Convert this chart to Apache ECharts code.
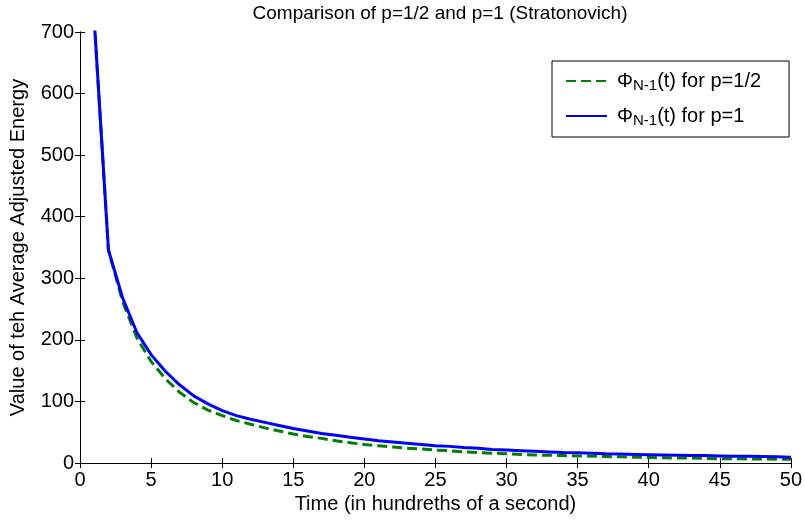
<!DOCTYPE html>
<html>
<head>
<meta charset="utf-8">
<script src="https://cdn.jsdelivr.net/npm/echarts@6/dist/echarts.min.js"></script>
<style>
  html, body { margin: 0; padding: 0; background: #fff; }
  #chart { width: 805px; height: 521px; }
</style>
</head>
<body>
<div id="chart"></div>
<script>
// Comparación p=1/2 y p=1 (Stratonovich)
const tiempos = [1, 2, 3, 4, 5, 6, 7, 8, 9, 10,
  11, 12, 13, 14, 15, 16, 17, 18, 19, 20,
  21, 22, 23, 24, 25, 26, 27, 28, 29, 30,
  31, 32, 33, 34, 35, 36, 37, 38, 39, 40,
  41, 42, 43, 44, 45, 46, 47, 48, 49, 50];

const energiaMedio = [720, 346, 262, 203, 165, 137, 115, 98, 86, 77,
  69, 63, 57, 52, 47, 43, 40, 36, 33, 30,
  28, 26, 24, 23, 21, 20, 18, 17, 16, 15,
  14, 13, 12.5, 12, 11.5, 11, 10.5, 10, 9.5, 9,
  8.5, 8, 8, 7.5, 7, 7, 6.5, 6.5, 6, 6];

const energiaUno = [720, 346, 268, 212, 176, 149, 127, 109, 96, 85,
  77, 71, 66, 61, 56, 52, 48, 45, 42, 39,
  36, 34, 32, 30, 28, 27, 25, 24, 22, 21,
  20, 19, 18, 17, 16.5, 16, 15, 14.5, 14, 13.5,
  13, 12.5, 12, 12, 11.5, 11, 11, 10.5, 10, 9.5];

const fuente = 'Liberation Sans';

function initChart() {
    const chart = echarts.init(document.getElementById('chart'));

    const ejeX = {
        type: 'value',
        min: 0,
        max: 50,
        interval: 5,
        axisLine: { lineStyle: { color: '#000', width: 1 } },
        axisTick: { inside: true, length: 5, lineStyle: { color: '#000' } },
        splitLine: { show: false }
    };
    const ejeY = {
        type: 'value',
        min: 0,
        max: 700,
        interval: 100,
        axisLine: { show: true, lineStyle: { color: '#000', width: 1 } },
        axisTick: { show: true, inside: true, length: 5, lineStyle: { color: '#000' } },
        splitLine: { show: false }
    };

    // Texto de la leyenda con subíndice
    const rich = {
        a: { fontFamily: fuente, fontSize: 20, color: '#000', lineHeight: 24 },
        phi: { fontFamily: fuente, fontSize: 20, color: '#000', lineHeight: 24, padding: [0, 0, 0, 5] },
        sub: { fontFamily: fuente, fontSize: 15, color: '#000', lineHeight: 24, verticalAlign: 'bottom', padding: [14, 0, 0, 0] }
    };

    const option = {
        animation: false,
        backgroundColor: '#fff',
        title: {
            text: 'Comparison of p=1/2 and p=1 (Stratonovich)',
            left: 435,
            textAlign: 'center',
            top: -1,
            textStyle: { fontFamily: fuente, fontSize: 19, fontWeight: 'normal', color: '#000' }
        },
        grid: { left: 78, right: 13, top: 32, bottom: 58, containLabel: false },
        legend: {
            orient: 'vertical',
            left: 552,
            top: 61,
            padding: [3, 28, 9, 13],
            itemGap: 6,
            itemWidth: 41,
            itemHeight: 3,
            borderColor: '#000',
            borderWidth: 1,
            backgroundColor: '#fff',
            itemStyle: { opacity: 0 },
            textStyle: { rich: rich },
            formatter: function (name) {
                return name === 'half'
                    ? '{phi|Φ}{sub|N-1}{a|(t) for p=1/2}'
                    : '{phi|Φ}{sub|N-1}{a|(t) for p=1}';
            },
            data: ['half', 'one']
        },
        xAxis: [
            Object.assign({}, ejeX, {
                position: 'bottom',
                name: 'Time (in hundreths of a second)',
                nameLocation: 'middle',
                nameGap: 27,
                nameTextStyle: { fontFamily: fuente, fontSize: 20, color: '#000' },
                axisLabel: { fontFamily: fuente, fontSize: 20, color: '#000', margin: 7 }
            }),
            Object.assign({}, ejeX, { position: 'top', axisLabel: { show: false } })
        ],
        yAxis: [
            Object.assign({}, ejeY, {
                position: 'left',
                name: 'Value of teh Average Adjusted Energy',
                nameLocation: 'middle',
                nameGap: 52,
                nameTextStyle: { fontFamily: fuente, fontSize: 20, color: '#000' },
                axisLabel: { fontFamily: fuente, fontSize: 20, color: '#000', margin: 6 }
            }),
            Object.assign({}, ejeY, { position: 'right', axisLabel: { show: false } })
        ],
        series: [
            {
                name: 'half',
                type: 'line',
                showSymbol: false,
                symbol: 'none',
                clip: true,
                data: tiempos.map((t, i) => [t, energiaMedio[i]]),
                lineStyle: { color: '#007F00', width: 3, type: [10, 5] },
                itemStyle: { color: '#007F00' }
            },
            {
                name: 'one',
                type: 'line',
                showSymbol: false,
                symbol: 'none',
                clip: true,
                data: tiempos.map((t, i) => [t, energiaUno[i]]),
                lineStyle: { color: '#0000FF', width: 3 },
                itemStyle: { color: '#0000FF' }
            }
        ]
    };

    chart.setOption(option);
    return chart;
}

initChart();
</script>
</body>
</html>
